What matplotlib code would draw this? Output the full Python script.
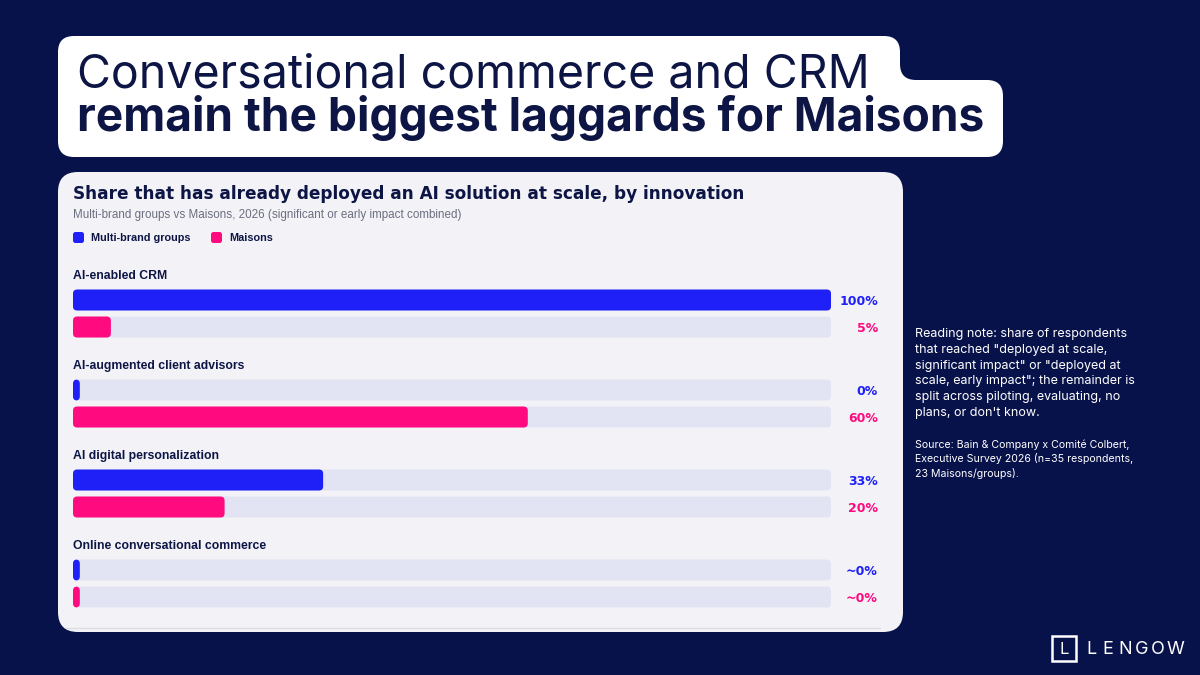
import matplotlib.pyplot as plt
from matplotlib.patches import FancyBboxPatch, PathPatch, Rectangle
from matplotlib.path import Path

# Data
innovations = ['AI-enabled CRM', 'AI-augmented client advisors',
               'AI digital personalization', 'Online conversational commerce']
multi_brand = [100, 0, 33, 0]
maisons = [5, 60, 20, 0]
multi_labels = ['100%', '0%', '33%', '~0%']
maison_labels = ['5%', '60%', '20%', '~0%']

NAVY = '#08124a'
INK = '#0d1545'
BLUE = '#1f1ff8'
PINK = '#ff0a7f'
TRACK = '#e2e4f3'
PANEL = '#f3f3f7'

fig = plt.figure(figsize=(12, 6.75), dpi=100, facecolor=NAVY)

# background layer in pixel units
bg = fig.add_axes([0, 0, 1, 1], zorder=0)
bg.set_xlim(0, 1200)
bg.set_ylim(675, 0)
bg.axis('off')

# title box with notch
r = 16
M, L, C = Path.MOVETO, Path.LINETO, Path.CURVE3
verts = [(58 + r, 36), (900 - r, 36), (900, 36), (900, 36 + r), (900, 64),
         (900, 80), (916, 80), (1003 - r, 80), (1003, 80), (1003, 80 + r),
         (1003, 157 - r), (1003, 157), (1003 - r, 157), (58 + r, 157),
         (58, 157), (58, 157 - r), (58, 36 + r), (58, 36), (58 + r, 36)]
codes = [M, L, C, C, L, C, C, L, C, C, L, C, C, L, C, C, L, C, C]
bg.add_patch(PathPatch(Path(verts, codes), facecolor='white', edgecolor='none'))

bg.text(77, 75, 'Conversational commerce and CRM', fontsize=33.5, family='Inter',
        color=INK, va='center', ha='left')
bg.text(77, 118, 'remain the biggest laggards for Maisons', fontsize=33.2,
        family='Inter', fontweight='bold', color=INK, va='center', ha='left')

# chart panel
bg.add_patch(FancyBboxPatch((58, 172), 845, 460,
                            boxstyle='round,pad=0,rounding_size=20',
                            facecolor=PANEL, edgecolor='none'))
bg.plot([66, 880], [628, 628], color='#dcdde6', lw=1)

bg.text(73, 194, 'Share that has already deployed an AI solution at scale, by innovation',
        fontsize=12.15, family='DejaVu Sans', fontweight='bold', color=INK,
        va='center', ha='left')
bg.text(73, 215, 'Multi-brand groups vs Maisons, 2026 (significant or early impact combined)',
        fontsize=8.4, family='Liberation Sans', color='#6b6e80', va='center', ha='left')

# legend
for x0, col, lab in [(73, BLUE, 'Multi-brand groups'), (211, PINK, 'Maisons')]:
    bg.add_patch(FancyBboxPatch((x0, 232), 11, 11,
                                boxstyle='round,pad=0,rounding_size=2.5',
                                facecolor=col, edgecolor='none'))
    bg.text(x0 + 18, 238, lab, fontsize=7.8, family='Liberation Sans',
            fontweight='bold', color=INK, va='center', ha='left')

# bars
ax = fig.add_axes([73 / 1200, 1 - 622 / 675, 758 / 1200, 360 / 675], zorder=1)
ax.set_xlim(0, 100)
ax.set_ylim(4 - 12 / 90, -12 / 90)
ax.axis('off')

h = 21 / 90
aspect = (1 / 90) / (100 / 758)
min_w = 0.9
for i, name in enumerate(innovations):
    ax.text(0, i + 0.02, name, fontsize=8.8, family='Liberation Sans', fontweight='bold',
            color=INK, va='center', ha='left')
    for off, val, col, lab in [(0.289, multi_brand[i], BLUE, multi_labels[i]),
                               (0.589, maisons[i], PINK, maison_labels[i])]:
        y = i + off
        ax.add_patch(FancyBboxPatch((0, y - h / 2), 100, h,
                                    boxstyle='round,pad=0,rounding_size=0.55',
                                    mutation_aspect=aspect,
                                    facecolor=TRACK, edgecolor='none'))
        ax.add_patch(FancyBboxPatch((0, y - h / 2), max(val, min_w), h,
                                    boxstyle='round,pad=0,rounding_size=0.55',
                                    mutation_aspect=aspect,
                                    facecolor=col, edgecolor='none'))
        ax.text(106.2, y + 0.02, lab, fontsize=9, family='DejaVu Sans',
                fontweight='bold', color=col, va='center', ha='right', clip_on=False)

# side note
note = ('Reading note: share of respondents\nthat reached "deployed at scale,\n'
        'significant impact" or "deployed at\nscale, early impact"; the remainder is\n'
        'split across piloting, evaluating, no\nplans, or don\'t know.')
source = ('Source: Bain & Company x Comité Colbert,\nExecutive Survey 2026 (n=35 respondents,\n'
          '23 Maisons/groups).')
bg.text(915, 328, note, fontsize=9, family='Inter', color='white', va='top',
        ha='left', linespacing=1.42)
bg.text(915, 439, source, fontsize=7.6, family='Inter', color='white', va='top',
        ha='left', linespacing=1.42)

# logo
bg.add_patch(Rectangle((1052, 636), 24, 25, facecolor='none', edgecolor='white', lw=1.8))
bg.text(1064, 649, 'L', fontsize=12, family='Inter', color='white', va='center', ha='center')
for k, ch in enumerate('LENGOW'):
    bg.text(1086 + k * 16.2, 649, ch, fontsize=13, family='Inter', color='white',
            va='center', ha='left')

fig.savefig('out.png', dpi=100, facecolor=NAVY)
